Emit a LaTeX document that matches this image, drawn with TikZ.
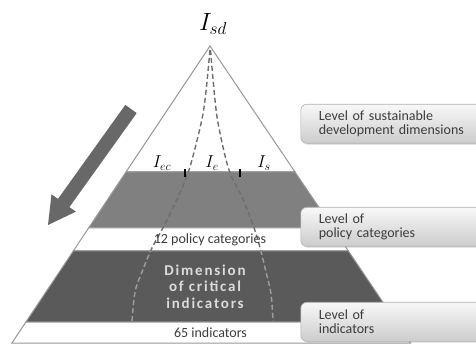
\documentclass[tikz,border=0pt]{standalone}
\usepackage{fontspec}
\setmainfont{Carlito}
\newfontfamily\dimfont[LetterSpace=12]{Carlito}
\usetikzlibrary{shadows}
\definecolor{bandgray}{HTML}{808080}
\definecolor{banddark}{HTML}{5A5A5A}
\definecolor{edgegray}{HTML}{989898}
\definecolor{txtgray}{HTML}{3C3C3C}
\definecolor{dimtxt}{HTML}{DCDCDC}
\definecolor{dashdark}{HTML}{6E6E6E}
\definecolor{dashlight}{HTML}{9C9C9C}
\definecolor{boxtop}{HTML}{F8F8F8}
\definecolor{boxbot}{HTML}{CCCCCC}
\definecolor{boxedge}{HTML}{B0B0B0}
\definecolor{arrowgray}{HTML}{686868}
\begin{document}
\begin{tikzpicture}[x=1pt,y=-1pt,
  band/.style={draw=edgegray, line width=1pt},
  curve/.style={dash pattern=on 5pt off 3pt, line width=1.4pt},
  lvlbox/.style={draw=boxedge, line width=0.6pt, rounded corners=6pt,
    top color=boxtop, bottom color=boxbot, anchor=north west,
    minimum width=190pt, minimum height=39pt, text width=165pt,
    inner xsep=18pt, align=left, text=txtgray,
    font=\fontsize{14}{14.5}\selectfont,
    drop shadow={opacity=0.2, shadow xshift=1pt, shadow yshift=-1.5pt}},
  bandtxt/.style={text=txtgray, font=\fontsize{14}{16}\selectfont},
  mathlbl/.style={font=\fontsize{18}{20}\selectfont, inner sep=0pt},
  tick/.style={line width=1.5pt, black}]
\useasboundingbox (0,0) rectangle (476,344);
\clip (0,0) rectangle (476,344);
\fill[white] (0,0) rectangle (476,344);

% pyramid bands
\draw[band, fill=white] (210,46) -- (295,172) -- (126,172) -- cycle;
\draw[band, fill=bandgray] (126,172) -- (295,172) -- (332.9,228) -- (88.6,228) -- cycle;
\draw[band, fill=white] (88.6,228) -- (332.9,228) -- (348.4,251) -- (73.3,251) -- cycle;
\draw[band, fill=banddark] (73.3,251) -- (348.4,251) -- (396.3,322) -- (25.9,322) -- cycle;
\draw[band, fill=white] (25.9,322) -- (396.3,322) -- (410.5,343) -- (11.9,343) -- cycle;

% dashed curves
\def\leftcurve{plot[smooth, tension=0.6] coordinates {(210,50) (205,100) (200,128) (189,170) (178,197) (165,224) (152,248) (142,272) (135,292) (132,322)}}
\def\rightcurve{plot[smooth, tension=0.6] coordinates {(210.5,50) (215,100) (219,128) (229,170) (242,197) (252,222) (259,244) (266,272) (271,294) (273,321)}}
\draw[curve, dashdark] \leftcurve;
\draw[curve, dashdark] \rightcurve;
\begin{scope}
  \clip (73.3,251) -- (348.4,251) -- (396.3,322) -- (25.9,322) -- cycle;
  \draw[curve, dashlight] \leftcurve;
  \draw[curve, dashlight] \rightcurve;
\end{scope}

% ticks
\draw[tick] (185,169) -- (185,177);
\draw[tick] (240,169) -- (240,177);

% labels
\node[font=\fontsize{26}{28}\selectfont, inner sep=0pt] (isd) at (213,24) {$I_{sd}$};
\node[mathlbl] (iec) at (162,163) {$I_{ec}$};
\node[mathlbl] (ie) at (212,163) {$I_{e}$};
\node[mathlbl] (is) at (264,163) {$I_{s}$};

\node[bandtxt] (pc) at (210,240) {12 policy categories};
\node[bandtxt] (ind) at (210.5,333) {65 indicators};
\node[text=dimtxt, align=center, font=\dimfont\bfseries\fontsize{15}{16.7}\selectfont] (dim) at (205,286.5) {Dimension\\of critical\\indicators};

% big arrow
\fill[arrowgray] (136.7,113.1) -- (125.3,104.9) -- (58,198.9) -- (51.5,194.3) -- (48,225) -- (75.9,211.7) -- (69.4,207.1) -- cycle;

% level boxes
\node[lvlbox] (b1) at (300.5,104) {Level of sustainable\\development dimensions};
\node[lvlbox] (b2) at (300.5,207) {Level of\\policy categories};
\node[lvlbox] (b3) at (300.5,302) {Level of\\indicators};
\end{tikzpicture}
\end{document}
